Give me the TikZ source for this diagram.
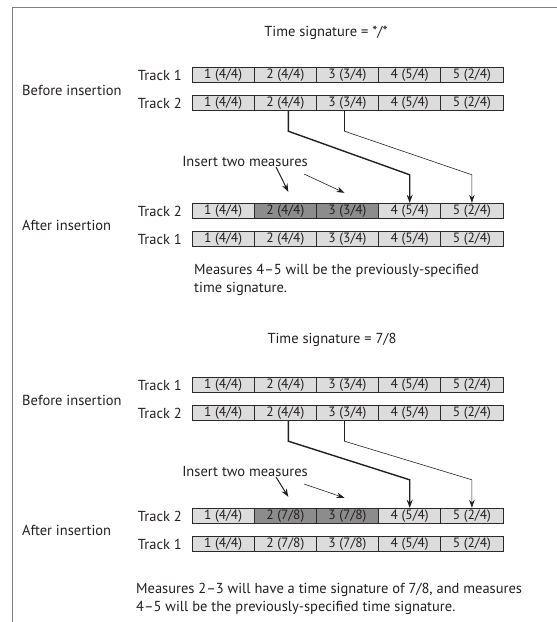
\documentclass[tikz,border=0pt]{standalone}
\usepackage{fontspec}
\setmainfont{PT Sans}
\usetikzlibrary{arrows.meta,calc}
\definecolor{boxlight}{HTML}{DCDCDC}
\definecolor{boxdark}{HTML}{8C8C8C}
\definecolor{boxline}{HTML}{2A2A2A}
\definecolor{framecol}{HTML}{808080}
\definecolor{ink}{HTML}{231F20}
\newcommand\mrow[3]{%
  \foreach \n/\a/\b/\c in {#3} {%
    \node[mbox, fill=\c] (#1-\n) at ({223.1+62.2*(\n-1)},#2) {\n\ (\a/\b)};}}
\begin{document}
\begin{tikzpicture}[x=1pt,y=-1pt,
  every node/.style={text=ink, font=\fontsize{14.5}{18}\selectfont, inner sep=0pt},
  mbox/.style={draw=boxline, line width=0.9pt, minimum width=62.2pt, minimum height=15.5pt, inner sep=0pt, font=\fontsize{13.5}{16}\selectfont},
  tracklabel/.style={anchor=east},
  sidelabel/.style={anchor=west},
  conn/.style={draw=ink, line width=1.4pt, -{Stealth[length=8pt,width=6pt]}},
  thinconn/.style={draw=ink, line width=0.6pt, -{Stealth[length=8pt,width=5.5pt]}},
  note/.style={anchor=north west, align=left}]
\useasboundingbox (0,0) rectangle (557,622);
\draw[framecol, line width=0.8pt] (12,622) -- (12,7) -- (557,7);

% ---------------- upper block ----------------
\node (t1) at (326,33) {Time signature = */*};
\node[tracklabel] (ubl1) at (182,75) {Track 1};
\node[tracklabel] (ubl2) at (182,103) {Track 2};
\node[sidelabel] (ubef) at (22,90) {Before insertion};
\mrow{ub1}{75}{1/4/4/boxlight,2/4/4/boxlight,3/3/4/boxlight,4/5/4/boxlight,5/2/4/boxlight}
\mrow{ub2}{103}{1/4/4/boxlight,2/4/4/boxlight,3/3/4/boxlight,4/5/4/boxlight,5/2/4/boxlight}
\node (uins) at (245,162) {Insert two measures};
\node[tracklabel] (ual2) at (182,211) {Track 2};
\node[tracklabel] (ual1) at (182,239) {Track 1};
\node[sidelabel] (uaft) at (22,225) {After insertion};
\mrow{ua2}{211}{1/4/4/boxlight,2/4/4/boxdark,3/3/4/boxdark,4/5/4/boxlight,5/2/4/boxlight}
\mrow{ua1}{239}{1/4/4/boxlight,2/4/4/boxlight,3/3/4/boxlight,4/5/4/boxlight,5/2/4/boxlight}
\node[note] (unote) at (194,264) {Measures 4--5 will be the previously-specified\\time signature.};
\draw[conn] ([xshift=3pt]ub2-2.south) -- ++(0,20) -- ($(ua2-4.north)+(0,-28)$) -- (ua2-4.north);
\draw[thinconn] ([xshift=-3pt]ub2-3.south) -- ++(0,20) -- ($(ua2-5.north)+(0,-28)$) -- (ua2-5.north);
\coordinate (ua1s) at (276,167);
\coordinate (ua2s) at (304,174);
\draw[conn, line width=1pt] (ua1s) -- ($(ua2-2.north)+(3,-11)$);
\draw[thinconn] (ua2s) -- ($(ua2-3.north)+(-3,-10)$);

% ---------------- lower block ----------------
\node (t2) at (332,340) {Time signature = 7/8};
\node[tracklabel] (lbl1) at (182,385) {Track 1};
\node[tracklabel] (lbl2) at (182,413) {Track 2};
\node[sidelabel] (lbef) at (22,400) {Before insertion};
\mrow{lb1}{385}{1/4/4/boxlight,2/4/4/boxlight,3/3/4/boxlight,4/5/4/boxlight,5/2/4/boxlight}
\mrow{lb2}{413}{1/4/4/boxlight,2/4/4/boxlight,3/3/4/boxlight,4/5/4/boxlight,5/2/4/boxlight}
\node (lins) at (245,472) {Insert two measures};
\node[tracklabel] (lal2) at (182,516) {Track 2};
\node[tracklabel] (lal1) at (182,544) {Track 1};
\node[sidelabel] (laft) at (22,530) {After insertion};
\mrow{la2}{516}{1/4/4/boxlight,2/7/8/boxdark,3/7/8/boxdark,4/5/4/boxlight,5/2/4/boxlight}
\mrow{la1}{544}{1/4/4/boxlight,2/7/8/boxlight,3/7/8/boxlight,4/5/4/boxlight,5/2/4/boxlight}
\node[note] (lnote) at (136,583) {Measures 2--3 will have a time signature of 7/8, and measures\\4--5 will be the previously-specified time signature.};
\draw[conn] ([xshift=3pt]lb2-2.south) -- ++(0,20) -- ($(la2-4.north)+(0,-28)$) -- (la2-4.north);
\draw[thinconn] ([xshift=-3pt]lb2-3.south) -- ++(0,20) -- ($(la2-5.north)+(0,-28)$) -- (la2-5.north);
\coordinate (la1s) at (276,477);
\coordinate (la2s) at (304,484);
\draw[conn, line width=1pt] (la1s) -- ($(la2-2.north)+(3,-11)$);
\draw[thinconn] (la2s) -- ($(la2-3.north)+(-3,-10)$);
\end{tikzpicture}
\end{document}
